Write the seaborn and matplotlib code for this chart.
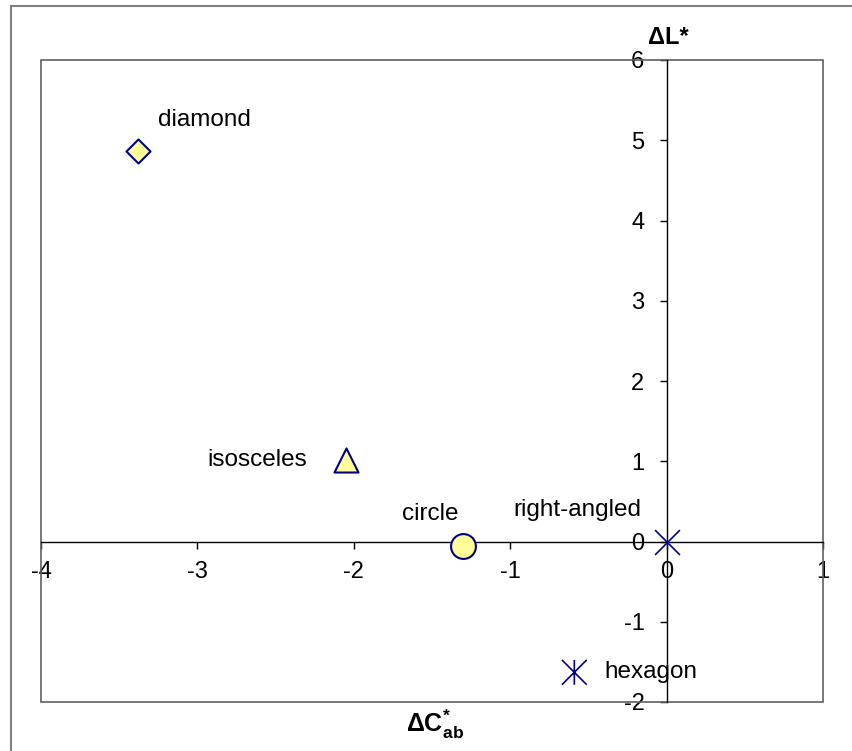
import matplotlib
matplotlib.use("Agg")
import matplotlib.pyplot as plt
import seaborn as sns
import pandas as pd
from matplotlib.path import Path
from matplotlib.patches import Rectangle

# data
shapes = ["diamond", "isosceles", "circle", "right-angled", "hexagon"]
delta_c = [-3.38, -2.05, -1.30, 0.0, -0.59]
delta_l = [4.87, 1.02, -0.06, 0.0, -1.63]
x_ticks = [-4, -3, -2, -1, 0, 1]
y_ticks = [-2, -1, 0, 1, 2, 3, 4, 5, 6]

sns.set_style("white")
plt.rcParams["font.family"] = ["Liberation Sans", "DejaVu Sans"]
plt.rcParams["text.color"] = "black"
plt.rcParams["xtick.color"] = "black"
plt.rcParams["ytick.color"] = "black"
plt.rcParams["axes.unicode_minus"] = False
plt.rcParams["mathtext.fontset"] = "custom"
plt.rcParams["mathtext.rm"] = "Liberation Sans"
plt.rcParams["mathtext.bf"] = "Liberation Sans:bold"

NAVY = "#000080"
FILL = "#FFFF99"

# six-spoke asterisk like the spreadsheet marker
star = Path(
    [(0, -1), (0, 1), (-1, -1), (1, 1), (-1, 1), (1, -1)],
    [Path.MOVETO, Path.LINETO, Path.MOVETO, Path.LINETO, Path.MOVETO, Path.LINETO],
)
marker_style = {
    "diamond": dict(marker="D", s=150, facecolor=FILL, edgecolor=NAVY, linewidth=1.5),
    "isosceles": dict(marker="^", s=300, facecolor=FILL, edgecolor=NAVY, linewidth=1.5),
    "circle": dict(marker="o", s=320, facecolor=FILL, edgecolor=NAVY, linewidth=1.5),
    "right-angled": dict(marker="x", s=320, color=NAVY, linewidth=1.2),
    "hexagon": dict(marker=star, s=320, facecolor="none", edgecolor=NAVY, linewidth=1.2),
}
# label offsets in points relative to each marker
label_offset = {
    "diamond": (48, 22),
    "isosceles": (-64, 0),
    "circle": (-24, 23),
    "right-angled": (-64, 23),
    "hexagon": (55, 0),
}

df = pd.DataFrame({"shape": shapes, "dC": delta_c, "dL": delta_l})

fig = plt.figure(figsize=(8.53, 7.51), dpi=100)
ax = fig.add_axes([41 / 853, 1 - 702 / 751, 782 / 853, 642 / 751])

for _, row in df.iterrows():
    sns.scatterplot(x=[row.dC], y=[row.dL], ax=ax, legend=False,
                    zorder=5, clip_on=False, **marker_style[row["shape"]])
    ax.annotate(row["shape"], (row.dC, row.dL), xytext=label_offset[row["shape"]],
                textcoords="offset points", ha="center", va="center",
                fontsize=17.5, color="black")

ax.set_xlim(-4, 1)
ax.set_ylim(-2, 6)
ax.set_xticks(x_ticks)
ax.set_yticks(y_ticks)
ax.set_xticklabels([str(t) for t in x_ticks])
ax.set_yticklabels([str(t) for t in y_ticks])

for side in ["top", "right"]:
    ax.spines[side].set_visible(False)
ax.spines["left"].set_position(("data", 0))
ax.spines["bottom"].set_position(("data", 0))
for side in ["left", "bottom"]:
    ax.spines[side].set_color("black")
    ax.spines[side].set_linewidth(1)

ax.tick_params(axis="x", direction="out", length=5, width=1, color="black",
               labelcolor="black", labelsize=17, pad=9, bottom=True)
ax.tick_params(axis="y", direction="out", length=5, width=1, color="black",
               labelcolor="black", labelsize=17, pad=11, left=True)
ax.set_xlabel("")
ax.set_ylabel("")

# plot-area frame
ax.add_patch(Rectangle((0, 0), 1, 1, transform=ax.transAxes, fill=False,
                       edgecolor="#606060", linewidth=1.2, clip_on=False, zorder=1))
# outer chart frame
fig.patches.append(Rectangle((11 / 853, -0.1), 1.2, 1 - 6 / 751 + 0.1,
                             transform=fig.transFigure, fill=False,
                             edgecolor="#808080", linewidth=1.5))

fig.text(668 / 853, 1 - 37 / 751, "ΔL*", ha="center", va="center",
         fontsize=17, fontweight="bold", color="black")
fig.text(435 / 853, 1 - 724 / 751, r"$\mathbf{ΔC^{*}_{ab}}$", ha="center",
         va="center", fontsize=18, color="black")

fig.savefig("out.png", dpi=100)
